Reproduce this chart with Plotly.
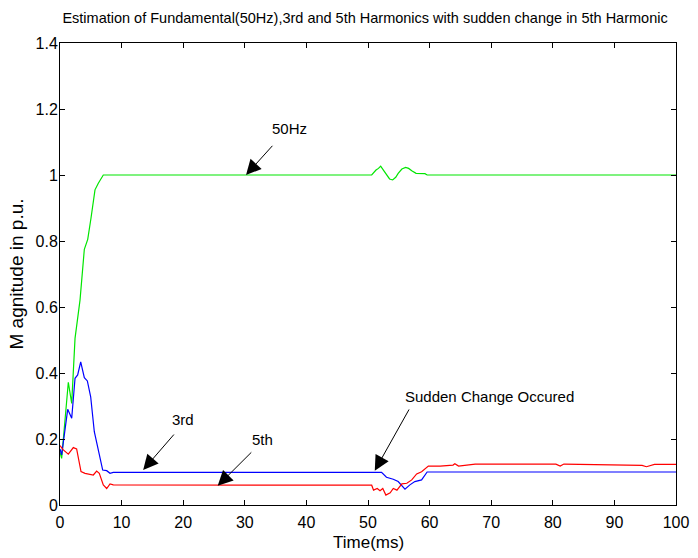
import plotly.graph_objects as go

# ---- data ----
t_fund = [0, 0.27, 1.35, 1.9, 2.44, 3.25, 3.95, 4.5, 5.03, 5.68, 6.22, 7.03,
          50.6, 50.9, 51.3, 51.7, 52.06, 52.5, 53.0, 53.5, 54.0, 54.5, 54.9, 55.5, 56.1,
          56.6, 57.1, 57.8, 59.25, 59.6, 100]
y_fund = [0.16, 0.141, 0.372, 0.308, 0.505, 0.621, 0.775, 0.805, 0.869, 0.955, 0.975, 1.0,
          1.0, 1.008, 1.015, 1.02, 1.027, 1.015, 1.0, 0.988, 0.985, 0.993, 1.005, 1.018, 1.023,
          1.02, 1.013, 1.005, 1.004, 1.0, 1.0]

t_3rd = [0, 0.27, 1.25, 1.9, 2.44, 2.87, 3.36, 3.95, 4.44, 4.98, 5.57, 6.22, 6.93,
         7.58, 8.12, 8.65, 50.6, 52.2, 53.0, 54.1, 54.9, 56.0, 56.8, 57.6, 58.7, 59.6, 100]
y_3rd = [0.17, 0.152, 0.29, 0.263, 0.384, 0.394, 0.434, 0.386, 0.376, 0.328, 0.222, 0.167, 0.106,
         0.104, 0.096, 0.099, 0.099, 0.099, 0.084, 0.078, 0.071, 0.048, 0.061, 0.071, 0.076, 0.1, 0.1]

t_5th = [0, 0.54, 1.35, 2.16, 2.7, 3.41, 4.06, 4.87, 5.41, 5.95, 6.38, 7.03, 7.58, 8.12, 8.65,
         50.6, 50.9, 51.5, 51.95, 52.4, 52.9, 53.6, 54.1, 54.7, 55.5, 56.3, 57.1, 57.9, 58.7, 59.8,
         61.7, 63.8, 64.1, 64.7, 66.8, 67.4, 69.8, 80.5, 81.2, 81.8, 94.5, 95.2, 96.5, 100]
y_5th = [0.18, 0.167, 0.154, 0.174, 0.17, 0.101, 0.096, 0.093, 0.091, 0.103, 0.096, 0.061, 0.05, 0.064, 0.061,
         0.06, 0.045, 0.05, 0.043, 0.05, 0.03, 0.037, 0.05, 0.045, 0.064, 0.066, 0.076, 0.094, 0.101, 0.118,
         0.118, 0.121, 0.125, 0.118, 0.121, 0.124, 0.124, 0.124, 0.118, 0.124, 0.12, 0.116, 0.123, 0.123]

x_ticks = [0, 10, 20, 30, 40, 50, 60, 70, 80, 90, 100]
y_ticks = [0, 0.2, 0.4, 0.6, 0.8, 1, 1.2, 1.4]

# annotations: (label, text_x, text_y, tail_x, tail_y, tip_x, tip_y)
labels = [
    ("50Hz", 37.2, 1.142, 34.7, 1.093, 30.2, 1.0),
    ("3rd", 20.0, 0.258, 18.7, 0.218, 13.5, 0.106),
    ("5th", 32.8, 0.197, 31.3, 0.164, 25.6, 0.058),
    ("Sudden Change Occured", 69.8, 0.33, 56.8, 0.294, 51.1, 0.104),
]

FONT = "Liberation Sans Narrow, Arial Narrow, Liberation Sans, Arial, sans-serif"

fig = go.Figure()
fig.add_trace(go.Scatter(x=t_fund, y=y_fund, mode="lines", line=dict(color="#00e600", width=1.2), name="50Hz"))
fig.add_trace(go.Scatter(x=t_3rd, y=y_3rd, mode="lines", line=dict(color="#0000ff", width=1.2), name="3rd"))
fig.add_trace(go.Scatter(x=t_5th, y=y_5th, mode="lines", line=dict(color="#ff0000", width=1.2), name="5th"))

annots = []
for lab, tx, ty, ax_, ay_, px, py in labels:
    annots.append(dict(x=tx, y=ty, xref="x", yref="y", text=lab, showarrow=False,
                       font=dict(family=FONT, size=15, color="black")))
    annots.append(dict(x=px, y=py, xref="x", yref="y", ax=ax_, ay=ay_, axref="x", ayref="y",
                       text="", showarrow=True, arrowhead=2, arrowsize=3, arrowwidth=1,
                       arrowcolor="black"))

# x-axis title placed as text below the tick labels
annots.append(dict(x=0.5, y=-0.082, xref="paper", yref="paper", text="Time(ms)", showarrow=False,
                   xanchor="center", yanchor="middle", font=dict(family=FONT, size=17, color="black")))

fig.update_layout(
    width=698, height=558,
    margin=dict(l=60, r=22, t=43, b=53),
    paper_bgcolor="white", plot_bgcolor="white",
    showlegend=False,
    font=dict(family=FONT, size=16, color="black"),
    title=dict(text="Estimation of Fundamental(50Hz),3rd and 5th Harmonics with sudden change in 5th Harmonic",
               x=0.523, xanchor="center", y=0.968, yanchor="middle",
               font=dict(family=FONT, size=14.5, color="black")),
    xaxis=dict(range=[0, 100], tickvals=x_ticks, ticks="inside", ticklen=5, tickcolor="black",
               showline=True, linecolor="black", linewidth=1, mirror="ticks", showgrid=False,
               zeroline=False, automargin=False, ticklabelstandoff=3,
               tickfont=dict(family=FONT, size=16)),
    yaxis=dict(range=[0, 1.4], tickvals=y_ticks, ticks="inside", ticklen=5, tickcolor="black",
               showline=True, linecolor="black", linewidth=1, mirror="ticks", showgrid=False,
               zeroline=False, automargin=False, title=dict(text="M agnitude in p.u.", standoff=6),
               ticklabelstandoff=-2, tickfont=dict(family=FONT, size=16)),
    annotations=annots,
)

fig.write_html("out.html")
